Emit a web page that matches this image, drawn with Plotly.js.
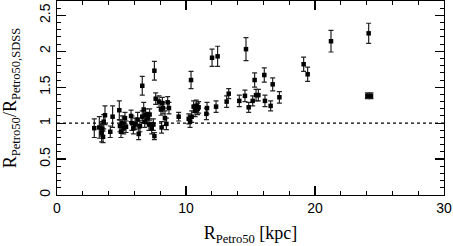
<!DOCTYPE html>
<html>
<head>
<meta charset="utf-8">
<script src="https://cdn.plot.ly/plotly-3.0.1.min.js"></script>
<style>html,body{margin:0;padding:0;background:#fff;}#chart{width:453px;height:246px;}</style>
</head>
<body>
<div id="chart"></div>
<script>
// R_Petro50 [kpc]
const radius = [2.89,3.28,3.46,3.51,3.62,3.72,3.57,4.13,4.31,4.83,4.88,4.96,5.06,5.17,5.27,5.35,5.74,5.81,5.92,6.05,6.25,6.33,6.43,6.61,6.61,6.72,6.80,6.87,7.03,7.13,7.18,7.34,7.47,7.55,7.55,7.65,7.91,8.06,8.11,8.17,8.22,8.37,8.48,8.58,8.68,9.43,10.21,10.31,10.39,10.44,10.59,10.70,10.80,10.90,10.98,11.58,11.63,12.02,12.45,12.33,13.15,13.31,14.13,14.57,14.65,14.86,15.17,15.32,15.43,15.61,16.07,16.12,16.56,16.72,17.24,19.12,19.43,21.24,24.16,24.06,24.34];
// R_Petro50 / R_Petro50,SDSS
const ratio = [0.93,0.94,0.86,0.92,1.02,1.11,0.81,0.88,1.09,1.18,0.96,0.88,1.00,0.93,1.07,0.95,1.10,1.00,0.93,0.99,1.05,0.85,0.96,1.52,1.09,1.19,1.02,1.12,1.07,0.98,1.12,0.93,0.98,1.73,0.82,1.34,1.30,1.19,0.94,1.28,1.21,1.07,0.99,1.29,1.21,1.09,1.06,1.02,1.60,1.09,1.23,1.17,1.24,1.20,1.22,1.13,1.21,1.91,1.93,1.23,1.30,1.41,1.31,1.38,2.03,1.22,1.31,1.60,1.39,1.39,1.67,1.31,1.24,1.54,1.36,1.82,1.68,2.14,2.25,1.38,1.38];
const ratioErr = [0.13,0.15,0.12,0.10,0.10,0.13,0.08,0.08,0.15,0.13,0.08,0.08,0.10,0.08,0.08,0.08,0.08,0.10,0.08,0.08,0.10,0.08,0.08,0.13,0.08,0.10,0.08,0.08,0.08,0.08,0.08,0.08,0.08,0.13,0.05,0.08,0.08,0.08,0.08,0.08,0.08,0.10,0.08,0.08,0.08,0.06,0.07,0.08,0.12,0.08,0.08,0.08,0.08,0.08,0.08,0.08,0.08,0.12,0.14,0.08,0.08,0.07,0.08,0.08,0.16,0.07,0.07,0.10,0.08,0.08,0.10,0.08,0.07,0.09,0.08,0.10,0.10,0.15,0.14,0.04,0.04];
const refLine = 1;
const xTickVals = [0,10,20,30];
const yTickVals = [0,0.5,1,1.5,2,2.5];
const yTickText = ['0','0.5','1','1.5','2','2.5'];

const trace = {
  x: radius, y: ratio, type: 'scatter', mode: 'markers',
  marker: {symbol: 'square', size: 4.5, color: '#000'},
  error_y: {type: 'data', array: ratioErr, visible: true, color: '#222', thickness: 1.2, width: 2.5},
  hoverinfo: 'none'
};
const axisCommon = {
  showline: true, linecolor: '#000', linewidth: 1.3, mirror: 'allticks',
  ticks: 'inside', ticklen: 9, tickwidth: 1.3, tickcolor: '#000',
  showgrid: false, zeroline: false,
  tickfont: {family: 'Liberation Sans, Arial, sans-serif', size: 14, color: '#000'}
};
const layout = {
  width: 453, height: 246,
  margin: {l: 57, r: 9, t: 1, b: 51},
  paper_bgcolor: '#fff', plot_bgcolor: '#fff', showlegend: false,
  xaxis: Object.assign({}, axisCommon, {
    range: [0, 30], tickvals: xTickVals,
    minor: {dtick: 2, ticks: 'inside', ticklen: 4, tickwidth: 1, tickcolor: '#000'},
    title: {text: 'R<sub>Petro50</sub> [kpc]', standoff: 13,
      font: {family: 'Liberation Serif, Times New Roman, serif', size: 18, color: '#000'}}
  }),
  yaxis: Object.assign({}, axisCommon, {
    range: [0, 2.7], tickvals: yTickVals, ticktext: yTickText, tickangle: -90,
    minor: {dtick: 0.1, ticks: 'inside', ticklen: 4, tickwidth: 1, tickcolor: '#000'},
    title: {text: 'R<sub>Petro50</sub>/R<sub>Petro50,SDSS</sub>', standoff: 15,
      font: {family: 'Liberation Serif, Times New Roman, serif', size: 18, color: '#000'}}
  }),
  shapes: [{type: 'line', xref: 'paper', x0: 0, x1: 1, yref: 'y', y0: refLine, y1: refLine,
    line: {color: '#000', width: 1.1, dash: 'dot'}}]
};
Plotly.newPlot('chart', [trace], layout, {staticPlot: true});
</script>
</body>
</html>
